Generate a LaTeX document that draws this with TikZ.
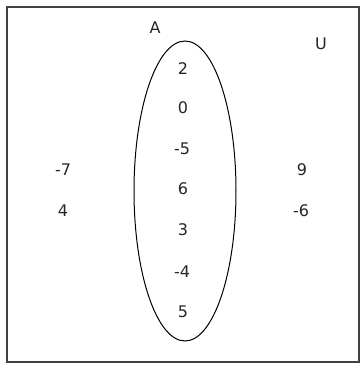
\documentclass[tikz,border=0pt]{standalone}
\usepackage{fontspec}
\setmainfont{DejaVu Sans}
\usetikzlibrary{shapes.geometric}
\begin{document}
\begin{tikzpicture}[x=1pt,y=-1pt,
  lbl/.style={inner sep=0pt,text=black!85,font=\fontsize{16}{19}\selectfont},
  frame/.style={draw=black!75,line width=1.3pt},
  setA/.style={draw=black,line width=1pt}]
\useasboundingbox (0,0) rectangle (360,373);
\fill[white] (0,0) rectangle (360,373);
\draw[frame] (7,7) rectangle (359,362);
\node[setA,ellipse,minimum width=102pt,minimum height=300pt,inner sep=0pt] (A) at (185,191) {};
\node[lbl] (lA) at (155,28) {A};
\node[lbl] (lU) at (321,44) {U};
\node[lbl] (n1) at (183,69) {2};
\node[lbl] (n2) at (183,108) {0};
\node[lbl] (n3) at (182,149) {-5};
\node[lbl] (n4) at (183,189) {6};
\node[lbl] (n5) at (183,230) {3};
\node[lbl] (n6) at (182,272) {-4};
\node[lbl] (n7) at (183,312) {5};
\node[lbl] (o1) at (63,170) {-7};
\node[lbl] (o2) at (63,211) {4};
\node[lbl] (o3) at (302,170) {9};
\node[lbl] (o4) at (301,211) {-6};
\end{tikzpicture}
\end{document}
